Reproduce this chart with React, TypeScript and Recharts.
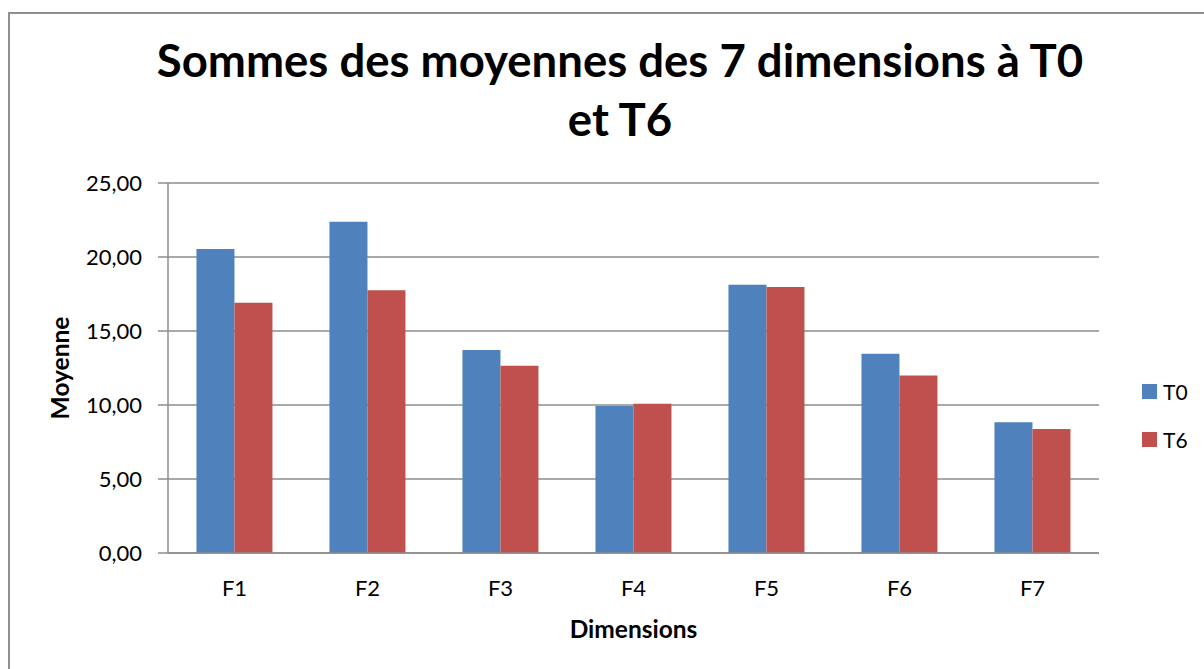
import { BarChart, Bar, XAxis, YAxis, CartesianGrid, Label } from "recharts";

const categories = ["F1", "F2", "F3", "F4", "F5", "F6", "F7"];
const t0Values = [20.54, 22.39, 13.72, 9.93, 18.13, 13.47, 8.83];
const t6Values = [16.91, 17.75, 12.66, 10.09, 17.97, 12.0, 8.38];
const yTicks = [0, 5, 10, 15, 20, 25];

const data = categories.map((name, i) => ({ name, T0: t0Values[i], T6: t6Values[i] }));

const FONT = "Lato, 'Open Sans', sans-serif";
const GRID = "#8c8c8c";
const BLUE = "#4F81BD";
const RED = "#C0504D";

const series = [
  { key: "T0", color: BLUE },
  { key: "T6", color: RED },
];

const fmt = (v: number) => v.toFixed(2).replace(".", ",");

// legend sits outside the chart so it doesn't eat into the plot height
const LegendBox = () => (
  <div style={{ position: "absolute", left: 1142, top: 379, fontFamily: FONT, fontSize: 21, color: "#000" }}>
    {series.map((s, i) => (
      <div key={s.key} style={{ display: "flex", alignItems: "center", height: 24, marginTop: i ? 24 : 0 }}>
        <div style={{ width: 15, height: 15, background: s.color, marginRight: 6 }} />
        <span>{s.key}</span>
      </div>
    ))}
  </div>
);

export default function App() {
  return (
    <div style={{ position: "relative", width: 1204, height: 669, overflow: "hidden", background: "#fff" }}>
      <style>{`body{margin:0;overflow:hidden}`}</style>
      <div
        style={{
          position: "absolute",
          left: 8,
          top: 12,
          width: 1400,
          height: 900,
          borderLeft: "2px solid #8f8f8f",
          borderTop: "2px solid #8f8f8f",
        }}
      />
      <div
        style={{
          position: "absolute",
          left: 0,
          top: 30,
          width: 1240,
          textAlign: "center",
          fontFamily: FONT,
          fontWeight: 700,
          fontSize: 45.5,
          lineHeight: "59px",
          color: "#000",
        }}
      >
        Sommes des moyennes des 7 dimensions à T0
        <br />
        et T6
      </div>
      <div style={{ position: "absolute", left: 0, top: 0 }}>
        <BarChart
          width={1204}
          height={669}
          data={data}
          margin={{ top: 183, right: 105, bottom: 26, left: 48 }}
          barCategoryGap="21.4%"
          barGap={0}
          style={{ fontFamily: FONT }}
        >
          <CartesianGrid vertical={false} stroke={GRID} strokeWidth={1.5} />
          <XAxis
            dataKey="name"
            height={90}
            tickLine={false}
            axisLine={{ stroke: GRID, strokeWidth: 1.5 }}
            tick={{ fill: "#000", fontSize: 22 }}
            tickSize={0}
            tickMargin={27}
          >
            <Label value="Dimensions" position="insideBottom" offset={5} style={{ fontWeight: 700, fontSize: 24.5, fill: "#000" }} />
          </XAxis>
          <YAxis
            width={120}
            domain={[0, 25]}
            ticks={yTicks}
            interval={0}
            tickFormatter={fmt}
            tickLine={{ stroke: GRID, strokeWidth: 1.5 }}
            axisLine={{ stroke: GRID, strokeWidth: 1.5 }}
            tickSize={10}
            tickMargin={16}
            tick={{ fill: "#000", fontSize: 22 }}
          >
            <Label
              content={({ viewBox }: any) => {
                const x = viewBox.x + 11;
                const y = viewBox.y + viewBox.height / 2;
                return (
                  <text
                    x={x}
                    y={y}
                    transform={`rotate(-90 ${x} ${y})`}
                    textAnchor="middle"
                    dominantBaseline="central"
                    style={{ fontFamily: FONT, fontWeight: 700, fontSize: 24.5, fill: "#000" }}
                  >
                    Moyenne
                  </text>
                );
              }}
            />
          </YAxis>
          {series.map((s) => (
            <Bar key={s.key} dataKey={s.key} fill={s.color} isAnimationActive={false} />
          ))}
        </BarChart>
      </div>
      <LegendBox />
    </div>
  );
}
